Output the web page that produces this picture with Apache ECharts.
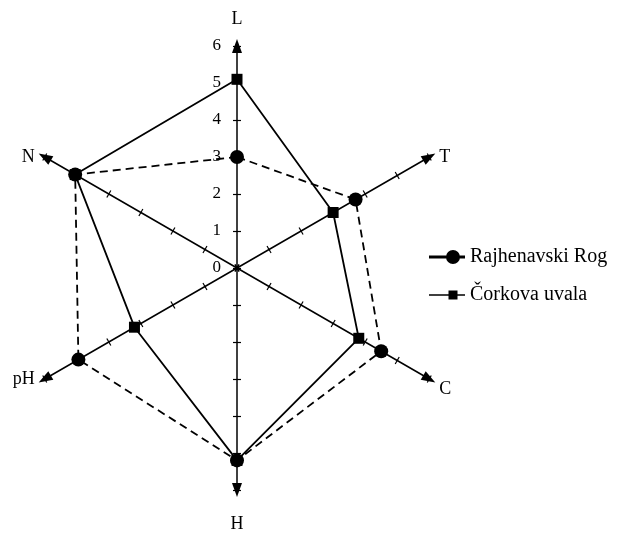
<!DOCTYPE html>
<html>
<head>
<meta charset="utf-8">
<script src="https://cdn.jsdelivr.net/npm/echarts@6/dist/echarts.min.js"></script>
<style>html,body{margin:0;background:#fff}#main{width:635px;height:533px}</style>
</head>
<body>
<div id="main"></div>
<script>
// radar axes, counter-clockwise from the top
var axisNames = ['L', 'N', 'pH', 'H', 'C', 'T'];
var rajhenavskiRog = [3.0, 5.05, 4.95, 5.2, 4.5, 3.7];
var corkovaUvala = [5.1, 5.05, 3.2, 5.2, 3.8, 3.0];
var axisMax = 6;

var dom = document.getElementById('main');
var myChart = echarts.init(dom);
var serif = 'Liberation Serif';
var ctr = [237, 268];
var rad = 222;

function indicators(show) {
    return axisNames.map(function (n) {
        return { name: show(n) ? n : '', min: 0, max: axisMax };
    });
}
var isVertical = function (n) { return n === 'L' || n === 'H'; };
// C and H sit a little lower in the original
function nameFmt(n) {
    return (n === 'C' || n === 'H') ? '{low|' + n + '}' : n;
}

var option = {
    backgroundColor: '#fff',
    legend: {
        orient: 'vertical',
        left: 424,
        top: 242,
        itemWidth: 36,
        itemHeight: 14,
        itemGap: 18,
        symbolKeepAspect: true,
        itemStyle: { borderWidth: 0 },
        textStyle: { fontFamily: serif, fontSize: 20, color: '#000' },
        data: [
            { name: 'Rajhenavski Rog', icon: 'path://M0,5.5 H36 V8.5 H0 Z M24,0 A7,7 0 1,1 24,14 A7,7 0 1,1 24,0 Z' },
            { name: 'Čorkova uvala', icon: 'path://M0,3.75 H36 V5.25 H0 Z M19.5,0 H28.5 V9 H19.5 Z' }
        ]
    },
    radar: [
        {
            center: ctr, radius: rad, startAngle: 90, shape: 'polygon', splitNumber: 6,
            indicator: indicators(function (n) { return !isVertical(n); }),
            nameGap: 0,
            axisName: {
                color: '#000', fontFamily: serif, fontSize: 18, verticalAlign: 'middle', padding: [0, 10],
                formatter: nameFmt,
                rich: { low: { fontFamily: serif, fontSize: 18, color: '#000', padding: [20, 0, 0, 0] } }
            },
            axisLine: { symbol: ['none', 'triangle'], symbolSize: [10, 14], lineStyle: { color: '#000', width: 1.5 } },
            axisTick: { show: true, length: 4, lineStyle: { color: '#000', width: 1.2 } },
            axisLabel: { show: false },
            splitLine: { show: false },
            splitArea: { show: false }
        },
        {
            center: ctr, radius: rad, startAngle: 90, shape: 'polygon', splitNumber: 6,
            indicator: indicators(isVertical),
            nameGap: 27,
            axisName: {
                color: '#000', fontFamily: serif, fontSize: 18, verticalAlign: 'middle',
                formatter: nameFmt,
                rich: { low: { fontFamily: serif, fontSize: 18, color: '#000', padding: [14, 0, 0, 0] } }
            },
            axisLine: { show: false },
            axisTick: { show: true, length: -4, lineStyle: { color: '#000', width: 1.2 } },
            axisLabel: { show: false },
            splitLine: { show: false },
            splitArea: { show: false }
        },
        {
            center: ctr, radius: rad, startAngle: 90, shape: 'polygon', splitNumber: 6,
            indicator: [{ name: '', min: 0, max: axisMax }],
            axisLine: { show: false },
            axisTick: { show: false },
            axisLabel: { show: true, margin: 16, color: '#000', fontFamily: serif, fontSize: 17 },
            splitLine: { show: false },
            splitArea: { show: false }
        }
    ],
    series: [
        {
            type: 'radar',
            radarIndex: 0,
            symbol: 'circle',
            symbolSize: 14,
            itemStyle: { color: '#000' },
            lineStyle: { color: '#000', width: 1.8, type: [8, 5] },
            data: [{ value: rajhenavskiRog, name: 'Rajhenavski Rog' }]
        },
        {
            type: 'radar',
            radarIndex: 0,
            symbol: 'rect',
            symbolSize: 11,
            itemStyle: { color: '#000' },
            lineStyle: { color: '#000', width: 1.8 },
            data: [{ value: corkovaUvala, name: 'Čorkova uvala' }]
        }
    ]
};
myChart.setOption(option);
</script>
</body>
</html>
